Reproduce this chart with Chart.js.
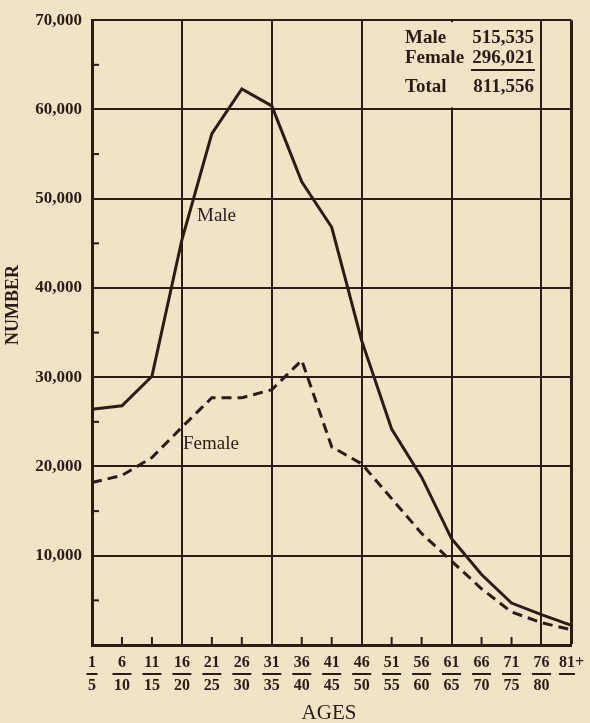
<!DOCTYPE html>
<html>
<head>
<meta charset="utf-8">
<script src="https://cdn.jsdelivr.net/npm/chart.js@4"></script>
<style>
    body { margin: 0; background: #f2e2c6; }
    canvas { display: block; }
</style>
</head>
<body>
<canvas id="agesChart" width="590" height="723"></canvas>
<script>
// ===== DATA =====
const ageFrom = ["1", "6", "11", "16", "21", "26", "31", "36", "41", "46", "51", "56", "61", "66", "71", "76", "81+"];
const ageTo = ["5", "10", "15", "20", "25", "30", "35", "40", "45", "50", "55", "60", "65", "70", "75", "80", ""];
const maleCounts = [26400, 26800, 30100, 45400, 57300, 62300, 60400, 51900, 46800, 34100, 24200, 18800, 11900, 7900, 4700, 3400, 2200];
const femaleCounts = [18200, 19000, 21000, 24400, 27700, 27700, 28600, 31900, 22200, 20300, 16400, 12500, 9400, 6300, 3700, 2500, 1700];
const summaryLabels = ["Male", "Female", "Total"];
const summaryValues = ["515,535", "296,021", "811,556"];

const ink = "#2a1c14";
const paper = "#f2e2c6";
const serif = '"Liberation Serif", "Times New Roman", serif';
const lastIndex = ageFrom.length - 1;

// ===== EXTRA DRAWING (paper, minor ticks, box, titles) =====
const paperPlugin = {
    id: "paper",
    beforeDraw(chart) {
        const c = chart.ctx;
        c.save();
        c.fillStyle = paper;
        c.fillRect(0, 0, chart.width, chart.height);
        c.restore();
    },
    beforeDatasetsDraw(chart) {
        const c = chart.ctx;
        const x = chart.scales.x, y = chart.scales.y;
        const area = chart.chartArea;
        c.save();
        c.strokeStyle = ink;
        c.lineWidth = 2;

        // minor ticks on the left axis every 5,000
        for (let v = 5000; v < 70000; v += 10000) {
            const py = y.getPixelForValue(v);
            c.beginPath();
            c.moveTo(area.left, py);
            c.lineTo(area.left + 7, py);
            c.stroke();
        }
        // minor ticks on the bottom axis
        ageFrom.forEach((a, i) => {
            if (i % 3 === 0 || i === lastIndex) return;
            const px = x.getPixelForValue(i);
            c.beginPath();
            c.moveTo(px, area.bottom);
            c.lineTo(px, area.bottom - 8);
            c.stroke();
        });

        // summary box in the top right corner
        const boxRight = x.getPixelForValue(15) - 2;
        const boxBottom = y.getPixelForValue(60000) - 2;
        c.fillStyle = paper;
        c.fillRect(398, area.top + 2, boxRight - 398, boxBottom - area.top - 2);

        c.fillStyle = ink;
        c.font = "bold 19px " + serif;
        const rows = [43, 63, 92];
        summaryLabels.forEach((lab, i) => {
            c.textAlign = "left";
            c.fillText(lab, 405, rows[i]);
            c.textAlign = "right";
            c.fillText(summaryValues[i], 534, rows[i]);
        });
        c.beginPath();
        c.moveTo(471, 70);
        c.lineTo(535, 70);
        c.stroke();
        c.restore();
    },
    afterDraw(chart) {
        const c = chart.ctx;
        const x = chart.scales.x;
        c.save();
        c.strokeStyle = ink;
        c.fillStyle = ink;
        c.lineWidth = 2;

        // fraction bars under the upper age
        c.font = "bold 16px " + serif;
        ageFrom.forEach((a, i) => {
            const px = x.getPixelForTick(i);
            let left, right;
            if (ageTo[i] === "") {
                const full = c.measureText(a).width;
                const plus = c.measureText("+").width;
                left = px - full / 2;
                right = px + full / 2 - plus;
            } else {
                const w = Math.max(c.measureText(a).width, c.measureText(ageTo[i]).width) + 3;
                left = px - w / 2;
                right = px + w / 2;
            }
            c.beginPath();
            c.moveTo(left, 674);
            c.lineTo(right, 674);
            c.stroke();
        });

        // axis titles
        c.font = "21px " + serif;
        c.textAlign = "center";
        c.textBaseline = "middle";
        c.fillText("AGES", 329, 713);

        c.save();
        c.translate(13, 305);
        c.rotate(-Math.PI / 2);
        c.font = "bold 18px " + serif;
        c.fillText("NUMBER", 0, 0);
        c.restore();

        // series names on the plot
        c.textAlign = "left";
        c.font = "19px " + serif;
        c.fillText("Male", 197, 216);
        c.fillText("Female", 183, 444);
        c.restore();
    }
};

// ===== CHART =====
new Chart(document.getElementById("agesChart"), {
    type: "line",
    data: {
        labels: ageFrom.map((a, i) => [a, ageTo[i]]),
        datasets: [
            {
                label: "Male",
                data: maleCounts,
                borderColor: ink,
                borderWidth: 3,
                pointRadius: 0,
                tension: 0
            },
            {
                label: "Female",
                data: femaleCounts,
                borderColor: ink,
                borderWidth: 3,
                borderDash: [10, 6],
                pointRadius: 0,
                tension: 0
            }
        ]
    },
    options: {
        responsive: false,
        animation: false,
        devicePixelRatio: 1,
        layout: { padding: { top: 13, right: 15, left: 0, bottom: 0 } },
        plugins: {
            legend: { display: false },
            tooltip: { enabled: false }
        },
        scales: {
            x: {
                afterFit: s => { s.height = 78; },
                grid: {
                    color: ctx => (ctx.index % 3 === 0 || ctx.index === lastIndex) ? ink : "transparent",
                    lineWidth: ctx => ctx.index === lastIndex ? 3 : 2,
                    drawTicks: false
                },
                border: { display: true, color: ink, width: 3 },
                ticks: {
                    color: ink,
                    autoSkip: false,
                    maxRotation: 0,
                    padding: 6,
                    font: { family: serif, size: 16, weight: "bold", lineHeight: 23 / 16 }
                }
            },
            y: {
                min: 0,
                max: 70000,
                afterFit: s => { s.width = 92; },
                grid: { color: ink, lineWidth: 2, drawTicks: false },
                border: { display: true, color: ink, width: 3 },
                ticks: {
                    stepSize: 10000,
                    color: ink,
                    padding: 10,
                    font: { family: serif, size: 17, weight: "bold" },
                    callback: v => v === 0 ? "" : v.toLocaleString("en-US")
                }
            }
        }
    },
    plugins: [paperPlugin]
});
</script>
</body>
</html>
